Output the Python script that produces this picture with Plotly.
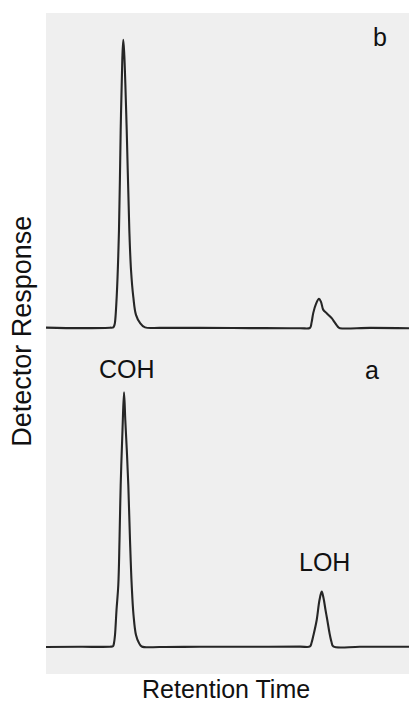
import plotly.graph_objects as go

# ---- data (retention time in min, response in arbitrary units above baseline) ----
time_b = [0.0, 1.124, 2.116, 2.225, 2.264, 2.281, 2.337, 2.413, 2.469, 2.522, 2.555, 2.588,
          2.668, 2.754, 2.810, 2.886, 2.975, 3.107, 3.273, 3.769, 5.091, 6.744, 8.397,
          8.727, 8.777, 8.836, 8.926, 9.025, 9.091, 9.167, 9.279, 9.355, 9.445, 9.554,
          9.653, 9.719, 10.711, 12.0]
resp_b = [0.0, -0.2, -0.04, 0.08, 1.06, 2.04, 12.05, 38.4, 77.6, 105.1, 113.0, 107.1,
          77.6, 38.4, 22.7, 12.05, 4.99, 1.85, 0.08, -0.1, -0.1, -0.2, -0.24,
          -0.1, 1.85, 5.77, 9.3, 11.3, 10.1, 6.95, 5.65, 4.79, 3.69, 1.85,
          0.27, -0.24, -0.1, -0.24]

time_a = [0.0, 1.124, 2.116, 2.215, 2.248, 2.281, 2.331, 2.390, 2.430, 2.469, 2.529, 2.579,
          2.621, 2.671, 2.721, 2.777, 2.833, 2.893, 2.975, 3.074, 3.164, 3.769, 5.091,
          6.744, 8.397, 8.727, 8.777, 8.843, 8.949, 9.041, 9.114, 9.174, 9.240, 9.299,
          9.372, 9.438, 9.498, 10.380, 12.0]
resp_a = [-0.12, -0.04, 0.0, 0.16, 1.45, 4.59, 14.4, 24.2, 41.9, 63.5, 85.1, 99.9,
          89.0, 77.2, 63.5, 41.9, 24.2, 12.45, 4.59, 1.45, 0.08, -0.12, -0.04,
          -0.04, 0.04, 0.08, 1.45, 4.59, 10.5, 18.3, 21.6, 19.1, 14.4, 10.5,
          5.38, 1.85, 0.08, 0.0, -0.04]

peak_labels = ["COH", "LOH"]
trace_labels = ["a", "b"]

# ---- styling / stacking ----
OFFSET_A = 10.72
OFFSET_B = 136.0
LINE = dict(color="#262626", width=2.1)
FONT = "Liberation Sans, Arial, sans-serif"

fig = go.Figure()
fig.add_trace(go.Scatter(x=time_b, y=[v + OFFSET_B for v in resp_b], mode="lines",
                         line=LINE, line_shape="spline", hoverinfo="skip"))
fig.add_trace(go.Scatter(x=time_a, y=[v + OFFSET_A for v in resp_a], mode="lines",
                         line=LINE, line_shape="spline", hoverinfo="skip"))

ann = [
    dict(text=peak_labels[0], x=2.678, y=119.9, xref="x", yref="y"),
    dict(text=peak_labels[1], x=9.200, y=43.97, xref="x", yref="y"),
    dict(text=trace_labels[0], x=0.898, y=0.4593, xref="paper", yref="paper"),
    dict(text=trace_labels[1], x=0.920, y=0.9631, xref="paper", yref="paper"),
    dict(text="Retention Time", x=0.4959, y=-0.0454, xref="paper", yref="paper",
         yanchor="bottom"),
    dict(text="Detector Response", x=-0.0653, y=0.5182, xref="paper", yref="paper",
         textangle=-90, font=dict(size=27, family=FONT, color="#111111")),
]
for a in ann:
    a.setdefault("font", dict(size=25, family=FONT, color="#111111"))
    a.setdefault("yanchor", "middle")
    a.update(showarrow=False, xanchor="center", borderpad=0)

fig.update_layout(
    width=409, height=704,
    margin=dict(l=46, r=0, t=13, b=30),
    paper_bgcolor="white", plot_bgcolor="#efefef",
    showlegend=False,
    annotations=ann,
    xaxis=dict(range=[0, 12], visible=False, showgrid=False, zeroline=False, fixedrange=True),
    yaxis=dict(range=[0, 259.5], visible=False, showgrid=False, zeroline=False, fixedrange=True),
)
fig.write_html("out.html", config={"displayModeBar": False},
               post_script="document.body.style.margin='0';document.body.style.overflow='hidden';")
